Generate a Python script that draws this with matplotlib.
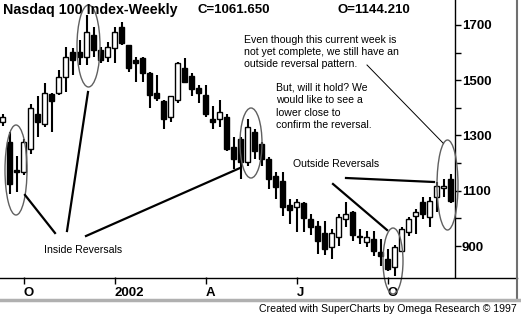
import matplotlib
matplotlib.use('Agg')
import matplotlib.pyplot as plt
from matplotlib.patches import Ellipse, Rectangle
import pandas as pd

# weekly bars, Nasdaq 100, week of 2001-09-10 .. week of 2002-12-02
weeks = pd.date_range('2001-09-10', periods=65, freq='W-MON')

opens = [1350, 1278, 1174, 1167, 1250, 1376, 1340, 1451, 1455, 1513,
         1603, 1603, 1585, 1664, 1610, 1585, 1617, 1693, 1628, 1574,
         1581, 1527, 1455, 1423, 1365, 1430, 1545, 1516, 1473, 1448,
         1358, 1358, 1368, 1260, 1286, 1203, 1311, 1268, 1214, 1152,
         1134, 1048, 1041, 1055, 997, 972, 947, 896, 932, 997,
         1023, 936, 914, 925, 878, 853, 824, 882, 950, 1008,
         1059, 1005, 1077, 1109, 1144.21]
highs = [1379, 1314, 1224, 1286, 1412, 1441, 1491, 1455, 1538, 1621,
         1617, 1646, 1736, 1693, 1621, 1639, 1693, 1711, 1628, 1585,
         1585, 1531, 1520, 1430, 1441, 1567, 1581, 1527, 1484, 1484,
         1405, 1430, 1376, 1296, 1296, 1358, 1322, 1278, 1221, 1167,
         1167, 1069, 1069, 1059, 1015, 990, 990, 961, 1015, 1059,
         1026, 961, 954, 954, 925, 889, 904, 968, 1005, 1033,
         1077, 1077, 1131, 1141, 1159]
lows = [1336, 1087, 1095, 1156, 1232, 1296, 1332, 1314, 1448, 1459,
        1520, 1556, 1556, 1585, 1563, 1567, 1563, 1628, 1531, 1495,
        1495, 1401, 1423, 1322, 1350, 1419, 1491, 1441, 1419, 1368,
        1322, 1332, 1242, 1177, 1141, 1188, 1214, 1188, 1105, 1069,
        1008, 979, 950, 950, 940, 871, 868, 853, 900, 968,
        918, 907, 896, 864, 828, 810, 792, 882, 936, 943,
        997, 968, 1023, 1077, 1055]
closes = [1365, 1123, 1167, 1275, 1401, 1347, 1455, 1423, 1513, 1585,
          1574, 1585, 1675, 1610, 1574, 1621, 1675, 1635, 1545, 1563,
          1527, 1448, 1437, 1358, 1441, 1563, 1495, 1469, 1455, 1376,
          1350, 1386, 1250, 1214, 1203, 1329, 1242, 1214, 1141, 1113,
          1041, 1030, 1059, 1001, 968, 918, 889, 947, 1005, 1015,
          940, 932, 932, 882, 864, 817, 896, 961, 997, 1023,
          1015, 1062, 1116, 1116, 1061.65]

tick_dates = ['2001-10-01', '2001-12-31', '2002-04-01', '2002-07-01', '2002-09-30']
tick_labels = ['O', '2002', 'A', 'J', 'O']
price_labels = [900, 1100, 1300, 1500, 1700]
price_minor = [1000, 1200, 1400, 1600]

W, H = 521, 315
fig = plt.figure(figsize=(W / 100, H / 100), dpi=100)
fig.patch.set_facecolor('white')

ax = fig.add_axes([0, 38 / H, 455 / W, 1 - 38 / H])
ax.set_xlim(-0.36, 64.64)
ax.set_ylim(788, 1790)

for i in range(len(weeks)):
    o, h, l, c = opens[i], highs[i], lows[i], closes[i]
    ax.vlines(i, l, h, color='black', lw=1.5, zorder=2)
    if abs(c - o) < 4:
        ax.hlines(o, i - 0.36, i + 0.36, color='black', lw=1.8, zorder=3)
    else:
        fc = 'white' if c > o else 'black'
        ax.add_patch(Rectangle((i - 0.34, min(o, c)), 0.68, abs(c - o),
                               facecolor=fc, edgecolor='black', lw=1.0, zorder=3))

for s in ['left', 'top', 'bottom']:
    ax.spines[s].set_visible(False)
ax.spines['right'].set_linewidth(1.0)

ax.yaxis.tick_right()
ax.set_yticks(price_labels)
ax.set_yticklabels([str(p) for p in price_labels], fontweight='bold',
                   fontsize=9.5, family='Liberation Sans')
ax.set_yticks(price_minor, minor=True)
ax.tick_params(axis='y', which='both', direction='out', length=4, width=1, pad=1)

xt = [weeks.get_loc(pd.Timestamp(d)) for d in tick_dates]
ax.set_xticks(xt)
ax.set_xticklabels(tick_labels, fontweight='bold', fontsize=9.5,
                   family='Liberation Sans', ha='left')
ax.tick_params(axis='x', direction='out', length=5, width=1, pad=2)

# overlay in pixel coordinates for the annotations
ov = fig.add_axes([0, 0, 1, 1], facecolor='none')
ov.set_xlim(0, W)
ov.set_ylim(H, 0)
ov.axis('off')

ov.plot([0, 517], [278, 278], color='black', lw=1.0)
ov.plot([517, 517], [0, 299], color='#707070', lw=1.5)
ov.plot([0, W], [299.5, 299.5], color='#b0b0b0', lw=2.5)

ov.text(3, 10, 'Nasdaq 100 Index-Weekly', fontsize=10.3, fontweight='bold',
        family='Liberation Sans', va='center')
ov.text(198, 10, 'C=1061.650', fontsize=9.5, fontweight='bold',
        family='Liberation Sans', va='center')
ov.text(338, 10, 'O=1144.210', fontsize=9.5, fontweight='bold',
        family='Liberation Sans', va='center')

narrow = ['Liberation Sans Narrow', 'Liberation Sans']
for k, line in enumerate(['Even though this current week is',
                          'not yet complete, we still have an',
                          'outside reversal pattern.']):
    ov.text(244, 40 + 12 * k, line, fontsize=7.6, family=narrow, va='center')
for k, line in enumerate(['But, will it hold? We', 'would like to see a',
                          'lower close to', 'confirm the reversal.']):
    ov.text(276, 88 + 12.3 * k, line, fontsize=7.6, family=narrow, va='center')
ov.text(44, 250, 'Inside Reversals', fontsize=7.6, family=narrow, va='center')
ov.text(293, 164, 'Outside Reversals', fontsize=7.6, family=narrow, va='center')
ov.text(517, 309, 'Created with SuperCharts by Omega Research \u00a9 1997',
        fontsize=7.6, family=narrow, va='center', ha='right')

# pointer lines
ov.plot([367, 443], [65, 143], color='black', lw=0.7)
ov.plot([55, 25], [233, 195], color='black', lw=1.6)
ov.plot([67, 88], [231, 92], color='black', lw=1.6)
ov.plot([86, 240], [236, 168], color='black', lw=1.6)
ov.plot([346, 434], [178, 182], color='black', lw=1.6)
ov.plot([333, 387], [184, 230], color='black', lw=1.6)

for cx, cy, ew, eh in [(16, 170, 22, 90), (88.5, 46, 23, 82), (251, 143, 22, 70),
                       (393, 261, 20, 66), (447.5, 185, 21, 90)]:
    ov.add_patch(Ellipse((cx, cy), ew, eh, facecolor='none',
                         edgecolor='#606060', lw=1.0))

plt.savefig('out.png', dpi=100, facecolor='white')
